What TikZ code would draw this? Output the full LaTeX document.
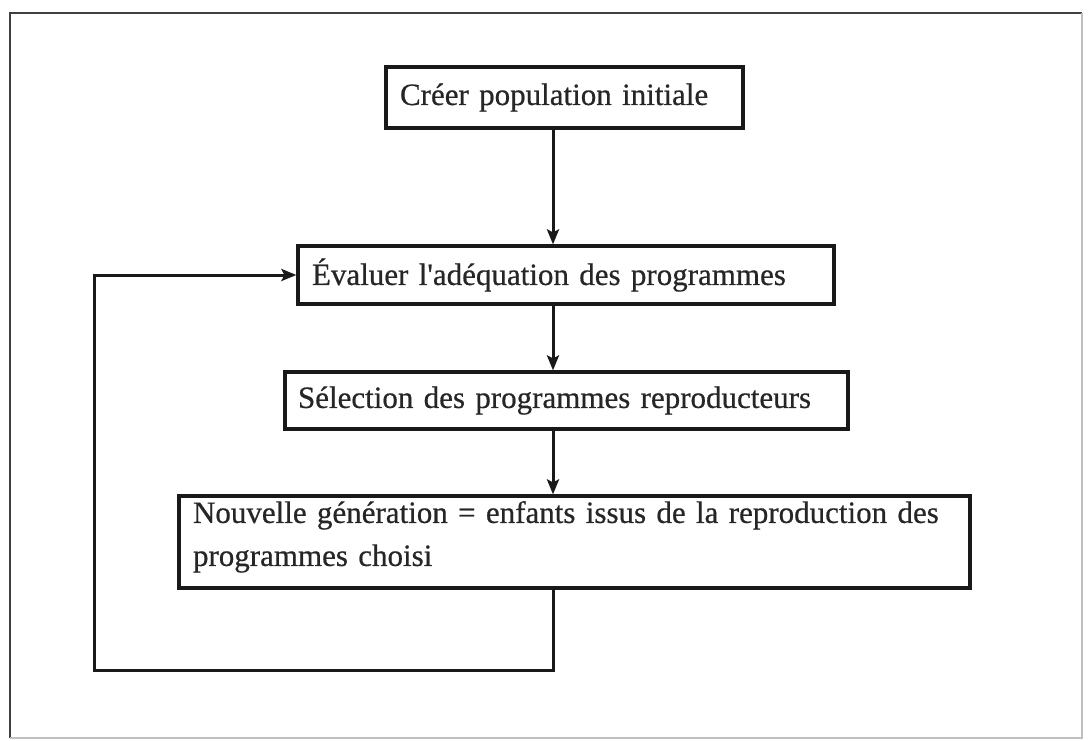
\documentclass[tikz,border=0pt]{standalone}
\usepackage{fontspec}
\setmainfont{Liberation Serif}[Ligatures=TeXOff, FakeBold=0.6]
\usetikzlibrary{arrows.meta}

\begin{document}
\begin{tikzpicture}[x=1pt,y=-1pt,
  stepbox/.style={draw=black!90, line width=3.2pt, inner xsep=14pt, inner ysep=0pt,
    align=left, text=black!85, font=\fontsize{31}{43}\selectfont},
  flow/.style={draw=black!90, line width=3pt,
    -{Stealth[length=15pt,width=12pt,inset=3pt]}},
  frameline/.style={line width=2.6pt}]
  \useasboundingbox (0,0) rectangle (1089,741);

  % outer frame
  \draw[frameline, black!75] (10,738) -- (10,13) -- (1082,13);
  \draw[frameline, black!25] (1082,13) -- (1082,738) -- (10,738);

  % process boxes
  \node[stepbox, minimum width=357pt, minimum height=61pt, text width=329pt]
    (create) at (564.5,97.5) {Créer population initiale};
  \node[stepbox, minimum width=536pt, minimum height=58pt, text width=508pt]
    (evaluate) at (566,275) {Évaluer l'adéquation des programmes};
  \node[stepbox, minimum width=563pt, minimum height=57pt, text width=537pt, inner xsep=13pt]
    (select) at (566.5,400.5) {Sélection des programmes reproducteurs};
  \node[stepbox, minimum width=791pt, minimum height=92pt, text width=763pt]
    (newgen) at (574.5,542) {Nouvelle génération = enfants issus de la reproduction des\\programmes choisi\rule[-17pt]{0pt}{17pt}};

  % main vertical flow
  \coordinate (spine) at (553,0);
  \coordinate (loopcorner) at (94,670);
  \draw[flow] (create.south -| spine) -- (evaluate.north -| spine);
  \draw[flow] (evaluate.south -| spine) -- (select.north -| spine);
  \draw[flow] (select.south -| spine) -- (newgen.north -| spine);

  % feedback loop to the evaluation step
  \draw[flow] (newgen.south -| spine) |- (loopcorner) |- (evaluate.west);
\end{tikzpicture}
\end{document}
